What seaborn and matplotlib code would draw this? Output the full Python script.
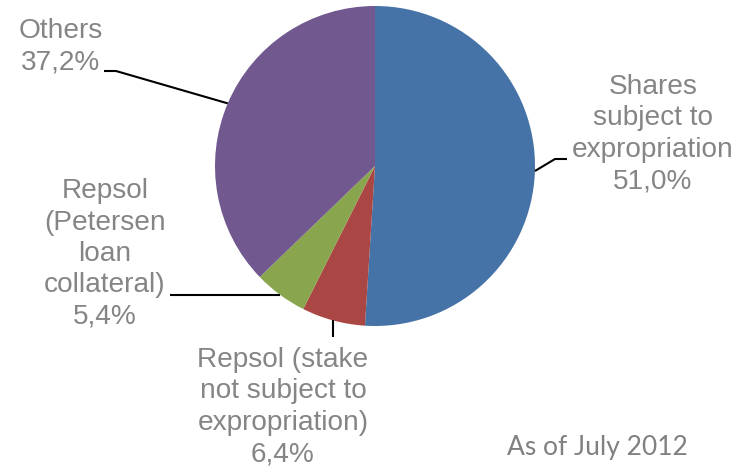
import matplotlib
matplotlib.use("Agg")
import matplotlib.pyplot as plt
import seaborn as sns
import numpy as np

categories = ["Shares\nsubject to\nexpropriation",
              "Repsol (stake\nnot subject to\nexpropriation)",
              "Repsol\n(Petersen\nloan\ncollateral)",
              "Others"]
values = [51.0, 6.4, 5.4, 37.2]
value_labels = ["51,0%", "6,4%", "5,4%", "37,2%"]
colors = ["#4572A7", "#AA4643", "#89A54E", "#71588F"]
note = "As of July 2012"

sns.set_theme(style="white")
plt.rcParams['font.family'] = ['Liberation Sans', 'DejaVu Sans']

W, H = 747, 468
fig = plt.figure(figsize=(W / 100, H / 100), dpi=100)
ax = fig.add_axes([0, 0, 1, 1])

def Y(y):
    return H - y

cx, cy, r = 375, Y(166), 160
wedges, _ = ax.pie(values, colors=colors, startangle=90, counterclock=False,
                   center=(cx, cy), radius=r, wedgeprops=dict(linewidth=0))
ax.set_xlim(0, W)
ax.set_ylim(0, H)
ax.set_aspect('equal')
ax.axis('off')

# layout: text centre (image px), leader path after the edge point (image px; None = use edge coord)
layout = [
    dict(text=(653, 134), path=[(555, 159), (567, 159)]),
    dict(text=(283, 407), path=[(None, 337)]),
    dict(text=(105, 254), path=[(170, None)]),
    dict(text=(61, 47), path=[(116, 71), (104, 71)]),
]

for w, lab, val, lay in zip(wedges, categories, value_labels, layout):
    mid = np.deg2rad((w.theta1 + w.theta2) / 2)
    ex = cx + r * np.cos(mid)
    ey = cy + r * np.sin(mid)
    xs, ys = [ex], [ey]
    for px, py in lay["path"]:
        xs.append(ex if px is None else px)
        ys.append(ey if py is None else Y(py))
    ax.plot(xs, ys, color="black", lw=1.5, solid_capstyle="butt")
    tx, ty = lay["text"]
    ax.text(tx, Y(ty), lab + "\n" + val, ha="center", va="center",
            fontsize=20.2, color="#858585", linespacing=1.27)

ax.text(597, Y(448), note, ha="center", va="center", fontsize=19,
        color="#808080", family=["Lato", "DejaVu Sans"])

fig.savefig("out.png", dpi=100)
